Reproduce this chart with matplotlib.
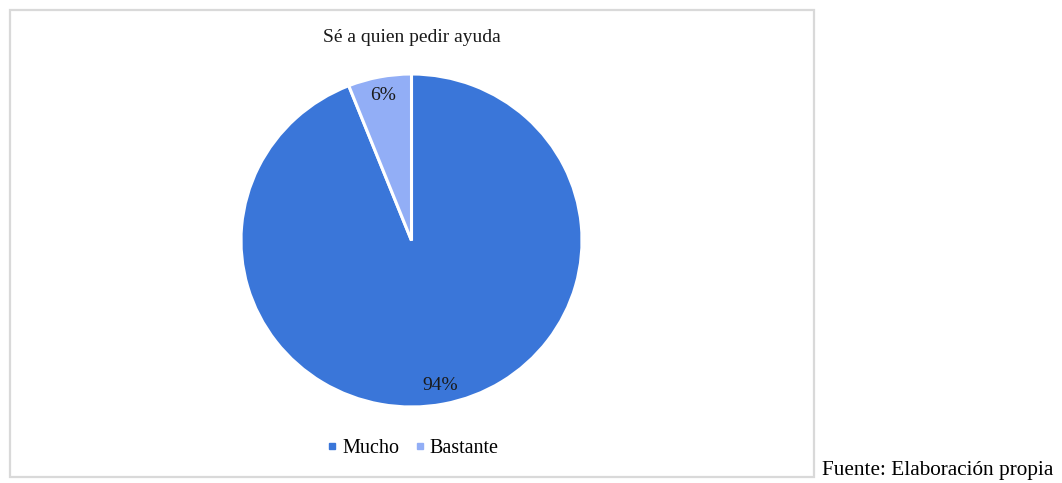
import matplotlib.pyplot as plt
from matplotlib.patches import Rectangle
from matplotlib.lines import Line2D

# Data
labels = ['Mucho', 'Bastante']
values = [94, 6]
colors = ['#3A76D9', '#92AEF6']

W, H = 1062, 483
plt.rcParams['font.family'] = ['Liberation Serif', 'DejaVu Serif']

fig = plt.figure(figsize=(W / 100, H / 100), dpi=100)

# chart border
fig.patches.append(Rectangle((10 / W, 1 - 477 / H), 804 / W, 467 / H,
                             transform=fig.transFigure, fill=False,
                             edgecolor='#D9D9D9', linewidth=1.6))

# pie is slightly squashed in the reference
cx, cy, rx, ry = 411.5, 240.5, 170.5, 166.5
ax = fig.add_axes([(cx - rx) / W, 1 - (cy + ry) / H, 2 * rx / W, 2 * ry / H])
wedges, texts, autotexts = ax.pie(values, colors=colors, startangle=90, counterclock=False,
                                  autopct='%1.0f%%', pctdistance=0.885,
                                  wedgeprops=dict(edgecolor='white', linewidth=2.2),
                                  textprops=dict(fontsize=14, color='#1a1a1a'))
ax.set_xlim(-1.0, 1.0)
ax.set_ylim(-1.0, 1.0)
ax.set_aspect('auto')

fig.text(cx / W, 1 - 38 / H, 'Sé a quien pedir ayuda', ha='center', va='center',
         fontsize=14, color='#1a1a1a')

handles = [Line2D([], [], marker='s', linestyle='none', markersize=4.5,
                  markerfacecolor=c, markeredgecolor=c) for c in colors]
fig.legend(handles, labels, loc='center', bbox_to_anchor=(cx / W, 1 - 448 / H),
           ncol=2, frameon=False, fontsize=14.5, handletextpad=0.1, columnspacing=0.6,
           handlelength=0.8)

fig.text(822 / W, 1 - 471 / H, 'Fuente: Elaboración propia', ha='left', va='center',
         fontsize=15.3, color='black')

fig.savefig('out.png', dpi=100)
